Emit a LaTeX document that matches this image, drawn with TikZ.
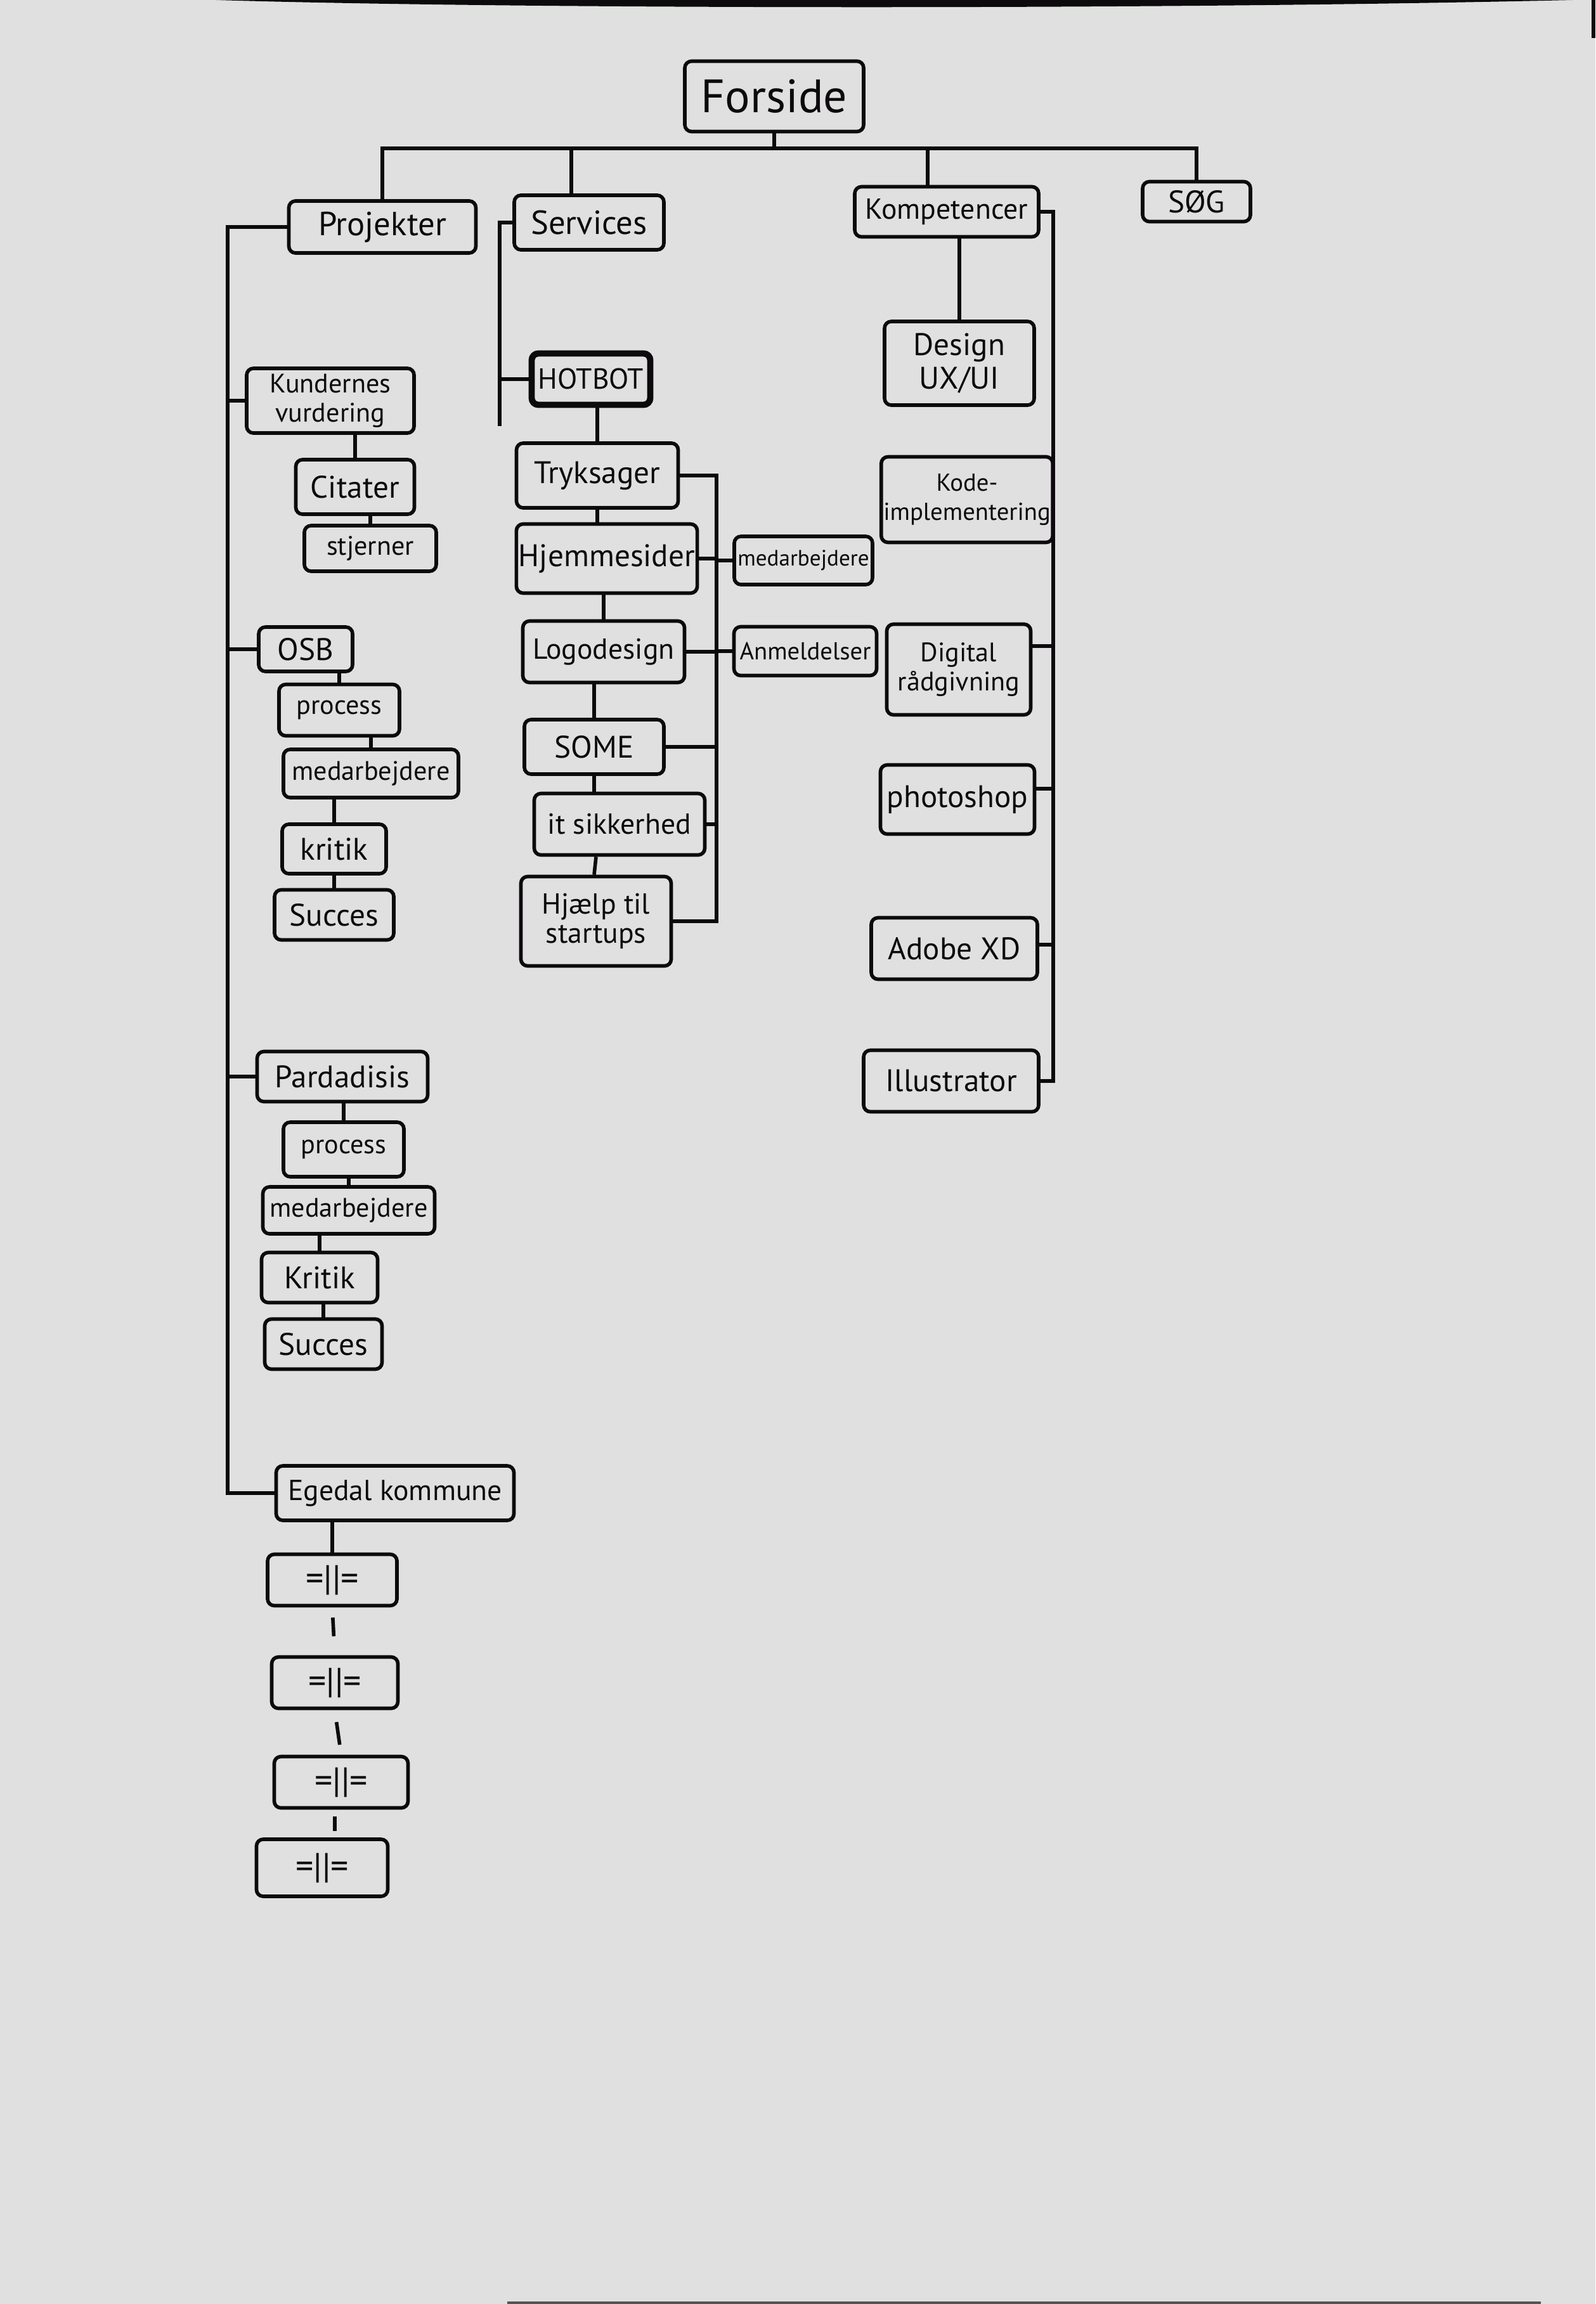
\documentclass[tikz,border=0pt]{standalone}
\usepackage{fontspec}
\setmainfont{PT Sans}
\usepackage{xcolor}
\usepackage{tikz}
\usetikzlibrary{positioning}

\definecolor{paper}{RGB}{224,224,224}
\definecolor{ink}{RGB}{12,10,12}

\begin{document}
\begin{tikzpicture}[
        box/.style={rectangle, draw=ink, line width=1.6pt, rounded corners=3pt,
                    inner sep=1pt, align=center, text=ink, font=\fontsize{12}{13}\selectfont},
        topbox/.style={box, font=\fontsize{15}{17}\selectfont},
        rootbox/.style={box, font=\fontsize{21}{23}\selectfont},
        botbox/.style={box, line width=2.8pt},
        link/.style={draw=ink, line width=1.6pt}
    ]
        % paper
        \fill[paper] (0,0) rectangle (25.16,-36.34);
        \useasboundingbox (0,0) rectangle (25.16,-36.34);
        \fill[ink] (3.4,0) .. controls (8,-0.14) and (18,-0.16) .. (24.8,0) -- cycle;
        \fill[ink] (25.1,0) rectangle (25.16,-0.6);
        \fill[ink!70] (8.0,-36.34) rectangle (24.3,-36.30);

        % top level
        \node[rootbox, minimum width=2.82cm, minimum height=1.11cm] (forside) at (12.21,-1.52) {Forside};
        \node[topbox, minimum width=2.95cm, minimum height=0.82cm] (projekter) at (6.03,-3.58) {Projekter};
        \node[topbox, minimum width=2.36cm, minimum height=0.86cm] (services) at (9.29,-3.51) {Services};
        \node[topbox, font=\fontsize{13}{15}\selectfont, minimum width=2.90cm, minimum height=0.79cm] (kompetencer) at (14.93,-3.34) {Kompetencer};
        \node[topbox, font=\fontsize{14}{16}\selectfont, minimum width=1.70cm, minimum height=0.63cm] (soeg) at (18.87,-3.18) {SØG};
        \coordinate (bus) at (0,-2.34);

        % projekter
        \node[box, minimum width=2.64cm, minimum height=1.02cm] (kunder) at (5.21,-6.32) {Kundernes\\vurdering};
        \node[box, font=\fontsize{14}{16}\selectfont, minimum width=1.87cm, minimum height=0.86cm] (citater) at (5.60,-7.68) {Citater};
        \node[box, minimum width=2.08cm, minimum height=0.72cm] (stjerner) at (5.84,-8.65) {stjerner};
        \node[box, font=\fontsize{14}{16}\selectfont, minimum width=1.48cm, minimum height=0.70cm] (osb) at (4.82,-10.24) {OSB};
        \node[box, minimum width=1.90cm, minimum height=0.81cm] (osbproc) at (5.35,-11.20) {process};
        \node[box, minimum width=2.76cm, minimum height=0.76cm] (osbmed) at (5.85,-12.20) {medarbejdere};
        \node[box, font=\fontsize{14}{16}\selectfont, minimum width=1.64cm, minimum height=0.78cm] (osbkrit) at (5.27,-13.39) {kritik};
        \node[box, font=\fontsize{14}{16}\selectfont, minimum width=1.88cm, minimum height=0.79cm] (osbsucc) at (5.27,-14.43) {Succes};
        \node[box, font=\fontsize{14}{16}\selectfont, minimum width=2.69cm, minimum height=0.79cm] (para) at (5.40,-16.98) {Pardadisis};
        \node[box, minimum width=1.90cm, minimum height=0.86cm] (paraproc) at (5.42,-18.13) {process};
        \node[box, minimum width=2.71cm, minimum height=0.74cm] (paramed) at (5.50,-19.09) {medarbejdere};
        \node[box, font=\fontsize{14}{16}\selectfont, minimum width=1.83cm, minimum height=0.79cm] (parakrit) at (5.04,-20.15) {Kritik};
        \node[box, font=\fontsize{14}{16}\selectfont, minimum width=1.85cm, minimum height=0.79cm] (parasucc) at (5.10,-21.20) {Succes};
        \node[box, font=\fontsize{13}{15}\selectfont, minimum width=3.75cm, minimum height=0.86cm] (egedal) at (6.23,-23.55) {Egedal kommune};
        \node[box, font=\fontsize{16}{18}\selectfont, minimum width=2.04cm, minimum height=0.81cm] (ege1) at (5.24,-24.92) {=||=};
        \node[box, font=\fontsize{16}{18}\selectfont, minimum width=1.99cm, minimum height=0.81cm] (ege2) at (5.28,-26.54) {=||=};
        \node[box, font=\fontsize{16}{18}\selectfont, minimum width=2.11cm, minimum height=0.81cm] (ege3) at (5.38,-28.11) {=||=};
        \node[box, font=\fontsize{16}{18}\selectfont, minimum width=2.07cm, minimum height=0.90cm] (ege4) at (5.08,-29.46) {=||=};
        \coordinate (ptrunk) at (3.59,0);

        % services
        \node[botbox, font=\fontsize{13}{15}\selectfont, minimum width=1.87cm, minimum height=0.81cm] (hotbot) at (9.32,-5.98) {HOTBOT};
        \node[box, font=\fontsize{14}{16}\selectfont, minimum width=2.55cm, minimum height=1.02cm] (tryk) at (9.42,-7.50) {Tryksager};
        \node[box, font=\fontsize{14}{16}\selectfont, minimum width=2.74cm, minimum height=1.09cm] (hjem) at (9.57,-8.81) {Hjemmesider};
        \node[box, font=\fontsize{13}{15}\selectfont, minimum width=2.55cm, minimum height=0.97cm] (logo) at (9.52,-10.28) {Logodesign};
        \node[box, font=\fontsize{14}{16}\selectfont, minimum width=2.20cm, minimum height=0.86cm] (some) at (9.37,-11.78) {SOME};
        \node[box, font=\fontsize{13}{15}\selectfont, minimum width=2.69cm, minimum height=0.97cm] (sikker) at (9.77,-13.00) {it sikkerhed};
        \node[box, font=\fontsize{13}{13}\selectfont, minimum width=2.37cm, minimum height=1.41cm] (startups) at (9.40,-14.53) {Hjælp til\\startups};
        \node[box, font=\fontsize{10}{12}\selectfont, minimum width=2.18cm, minimum height=0.76cm] (smed) at (12.67,-8.84) {medarbejdere};
        \node[box, font=\fontsize{11}{13}\selectfont, minimum width=2.25cm, minimum height=0.77cm] (anmeld) at (12.70,-10.27) {Anmeldelser};
        \coordinate (strunk) at (7.88,-6.72);
        \coordinate (sbus) at (11.30,0);

        % kompetencer
        \node[box, font=\fontsize{14}{15}\selectfont, minimum width=2.36cm, minimum height=1.32cm] (design) at (15.13,-5.73) {Design\\UX/UI};
        \node[box, font=\fontsize{11}{13}\selectfont, minimum width=2.57cm, minimum height=1.35cm] (kode) at (15.25,-7.88) {Kode-\\implementering};
        \node[box, font=\fontsize{12}{13}\selectfont, minimum width=2.27cm, minimum height=1.43cm] (digital) at (15.12,-10.56) {Digital\\rådgivning};
        \node[box, font=\fontsize{14}{16}\selectfont, minimum width=2.43cm, minimum height=1.09cm] (photoshop) at (15.10,-12.61) {photoshop};
        \node[box, font=\fontsize{14}{16}\selectfont, minimum width=2.62cm, minimum height=0.97cm] (adobe) at (15.05,-14.96) {Adobe XD};
        \node[box, font=\fontsize{14}{16}\selectfont, minimum width=2.76cm, minimum height=0.97cm] (illustrator) at (15.00,-17.05) {Illustrator};
        \coordinate (ktrunk) at (16.61,0);

        % top bus
        \draw[link] (forside.south) -- (forside.south |- bus);
        \draw[link] (projekter.north) -- (projekter.north |- bus) -- (soeg.north |- bus) -- (soeg.north);
        \draw[link] ([xshift=-0.28cm]services.north) -- ([xshift=-0.28cm]services.north |- bus);
        \draw[link] ([xshift=-0.3cm]kompetencer.north) -- ([xshift=-0.3cm]kompetencer.north |- bus);

        % projekter trunk
        \draw[link] (projekter.west) -| (ptrunk |- egedal.west) -- (egedal.west);
        \draw[link] (kunder.west) -- (kunder.west -| ptrunk);
        \draw[link] (osb.west) -- (osb.west -| ptrunk);
        \draw[link] (para.west) -- (para.west -| ptrunk);
        \draw[link] (citater.north) -- (citater.north |- kunder.south);
        \draw[link] (stjerner.north) -- (stjerner.north |- citater.south);
        \draw[link] (osbproc.north) -- (osbproc.north |- osb.south);
        \draw[link] (osbmed.north) -- (osbmed.north |- osbproc.south);
        \draw[link] (osbkrit.north) -- (osbkrit.north |- osbmed.south);
        \draw[link] (osbsucc.north) -- (osbsucc.north |- osbkrit.south);
        \draw[link] (paraproc.north) -- (paraproc.north |- para.south);
        \draw[link] (paramed.north) -- (paramed.north |- paraproc.south);
        \draw[link] (parakrit.north) -- (parakrit.north |- paramed.south);
        \draw[link] (parasucc.north) -- (parasucc.north |- parakrit.south);
        \draw[link] (ege1.north) -- (ege1.north |- egedal.south);
        \draw[link, shorten <=0.16cm, shorten >=0.30cm] (ege1.south) -- (ege2.north);
        \draw[link, shorten <=0.19cm, shorten >=0.16cm] (ege2.south) -- (ege3.north);
        \draw[link, shorten <=0.11cm, shorten >=0.10cm] ([xshift=-0.1cm]ege3.south) -- ([xshift=-0.1cm]ege3.south |- ege4.north);

        % services trunk and bus
        \draw[link] (services.west) -| (strunk);
        \draw[link] (hotbot.west) -- (hotbot.west -| strunk);
        \draw[link] (tryk.north) -- (tryk.north |- hotbot.south);
        \draw[link] (hjem.north -| tryk.south) -- (tryk.south);
        \draw[link] (logo.north) -- (logo.north |- hjem.south);
        \draw[link] (some.north) -- (some.north |- logo.south);
        \draw[link] (sikker.north -| some.south) -- (some.south);
        \draw[link] (startups.north -| some.south) -- (startups.north |- sikker.south);
        \draw[link] (tryk.east) -| (sbus |- startups.east) -- (startups.east);
        \draw[link] (hjem.east) -- (hjem.east -| sbus);
        \draw[link] (logo.east) -- (logo.east -| sbus);
        \draw[link] (some.east) -- (some.east -| sbus);
        \draw[link] (sikker.east) -- (sikker.east -| sbus);
        \draw[link] (smed.west) -- (smed.west -| sbus);
        \draw[link] (anmeld.west) -- (anmeld.west -| sbus);

        % kompetencer trunk
        \draw[link] (design.north) -- (design.north |- kompetencer.south);
        \draw[link] (kompetencer.east) -| (ktrunk |- illustrator.east) -- (illustrator.east);
        \draw[link] ([yshift=0.28cm]kode.east) -- ([yshift=0.28cm]kode.east -| ktrunk);
        \draw[link] ([yshift=0.37cm]digital.east) -- ([yshift=0.37cm]digital.east -| ktrunk);
        \draw[link] ([yshift=0.17cm]photoshop.east) -- ([yshift=0.17cm]photoshop.east -| ktrunk);
        \draw[link] ([yshift=0.06cm]adobe.east) -- ([yshift=0.06cm]adobe.east -| ktrunk);
    \end{tikzpicture}
\end{document}
